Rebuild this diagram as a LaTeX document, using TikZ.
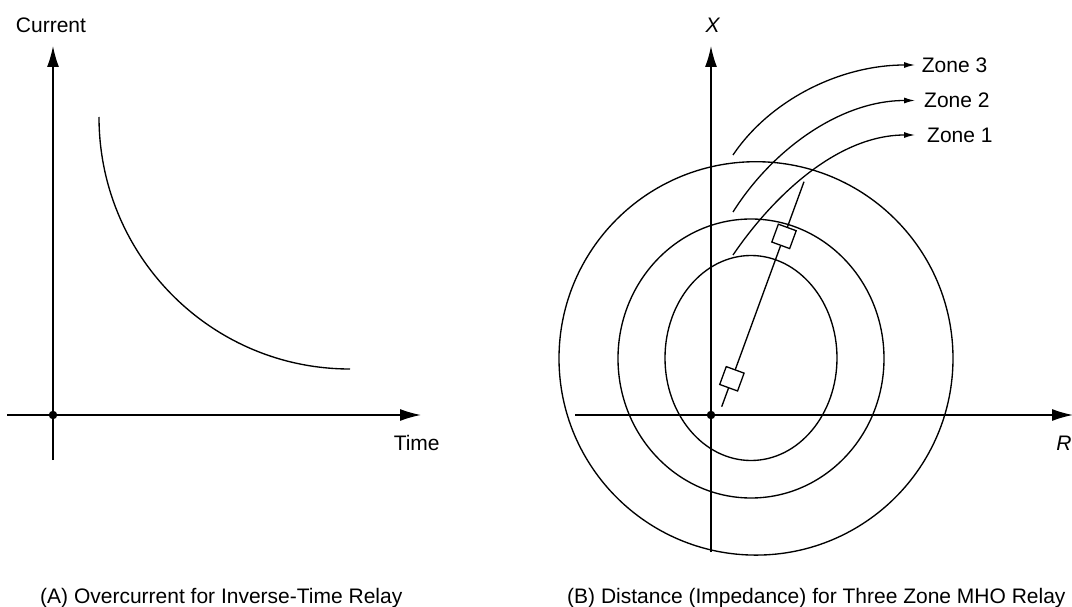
\documentclass[tikz,border=0pt]{standalone}
\usepackage{fontspec}
\setmainfont{Liberation Sans}
\usetikzlibrary{arrows.meta}
\begin{document}
\begin{tikzpicture}[x=1pt,y=-1pt,
  axis/.style={line width=1.5pt,-{Latex[length=21pt,width=12pt]}},
  curve/.style={line width=1.35pt},
  zarrow/.style={line width=1.3pt,-{Latex[length=11pt,width=6pt]}},
  lbl/.style={inner sep=0pt,font=\fontsize{21}{25}\selectfont},
  zlabel/.style={lbl,anchor=west,inner ysep=0pt},
  relaybox/.style={draw,fill=white,line width=1.3pt,minimum size=19pt,inner sep=0pt,sloped},
  dot/.style={circle,fill=black,inner sep=0pt,minimum size=8.5pt}]
\useasboundingbox (0,0) rectangle (1072,607);
% ---------- (A) ----------
\coordinate (A-left) at (7,415);
\coordinate (A-right) at (421,415);
\coordinate (A-bot) at (53,460);
\coordinate (A-top) at (53,46);
\draw[axis] (A-left) -- (A-right);
\draw[axis] (A-bot) -- (A-top);
\node[dot] (A-o) at (53,415) {};
\node[lbl] (cur) at (51,25) {Current};
\node[lbl] (time) at (416.7,443) {Time};
\coordinate (c-start) at (99,117);
\coordinate (c-end) at (350,369);
\draw[curve] (c-start) .. controls (99,256) and (211,369) .. (c-end);
\node[lbl,anchor=base west] (capA) at (40,603) {(A) Overcurrent for Inverse-Time Relay};
% ---------- (B) ----------
\coordinate (B-left) at (575,415);
\coordinate (B-right) at (1073,415);
\coordinate (B-bot) at (711,552);
\coordinate (B-top) at (711,46);
\draw[axis] (B-left) -- (B-right);
\draw[axis] (B-bot) -- (B-top);
\node[dot] (B-o) at (711,415) {};
\node[lbl] (xl) at (712.7,25) {\itshape X};
\node[lbl] (rl) at (1064,443) {\itshape R};
\draw[curve] (756,358.4) ellipse [x radius=197, y radius=196.7];
\draw[curve] (751,358.5) ellipse [x radius=133, y radius=139.5];
\draw[curve] (751,358) ellipse [x radius=86, y radius=102.5];
\coordinate (l-start) at (721.7,406.7);
\coordinate (l-end) at (804,181.7);
\draw[curve] (l-start) -- node[relaybox,pos=0.124] (box1) {} node[relaybox,pos=0.757] (box2) {} (l-end);
\node[zlabel,inner xsep=6.7pt] (z3) at (915,65) {Zone 3};
\node[zlabel,inner xsep=9pt] (z2) at (915,100.5) {Zone 2};
\node[zlabel,inner xsep=12pt] (z1) at (915,135) {Zone 1};
\coordinate (s3) at (733,155);
\coordinate (s2) at (733,212);
\coordinate (s1) at (733,255);
\draw[zarrow] (s3) .. controls (770,100) and (840,65) .. (z3.west);
\draw[zarrow] (s2) .. controls (772,150) and (840,100.5) .. (z2.west);
\draw[zarrow] (s1) .. controls (776,192) and (840,135) .. (z1.west);
\node[lbl,anchor=base west] (capB) at (567,603) {(B) Distance (Impedance) for Three Zone MHO Relay};
\end{tikzpicture}
\end{document}
